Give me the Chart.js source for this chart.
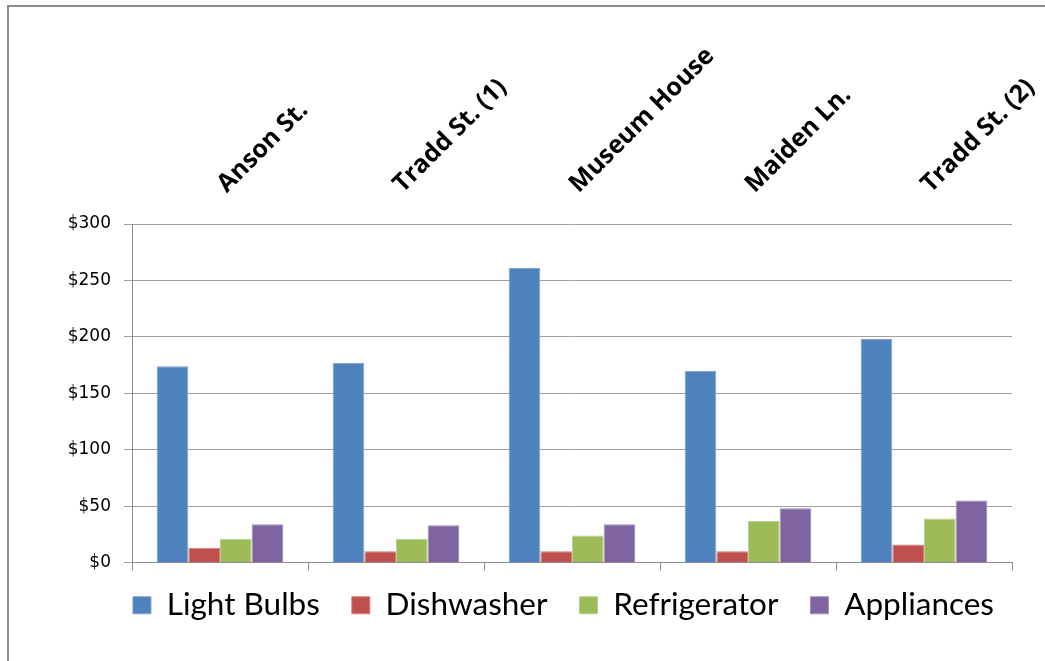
<!DOCTYPE html>
<html>
<head>
<meta charset="utf-8">
<script src="https://cdn.jsdelivr.net/npm/chart.js@4"></script>
<style>
  body { margin: 0; overflow: hidden; background: #fff; }
  #frame { position: absolute; left: 7px; top: 5px; width: 1100px; height: 700px;
           border-left: 2px solid #8c8c8c; border-top: 2px solid #8c8c8c; }
  #wrap { position: absolute; left: 0; top: 0; width: 1045px; height: 661px; }
</style>
</head>
<body>
<div id="frame"></div>
<div id="wrap"><canvas id="myChart" width="1045" height="661"></canvas></div>
<script>
const houses = ['Anson St.', 'Tradd St. (1)', 'Museum House', 'Maiden Ln.', 'Tradd St. (2)'];
const lightBulbs = [174, 177, 261, 170, 198];
const dishwasher = [13, 10, 10, 10, 16];
const refrigerator = [21, 21, 24, 37, 39];
const appliances = [34, 33, 34, 48, 55];
const yMax = 300;
const yStep = 50;

const ctx = document.getElementById('myChart').getContext('2d');

const myChart = new Chart(ctx, {
  type: 'bar',
  data: {
    labels: houses,
    datasets: [
      { label: 'Light Bulbs', data: lightBulbs, backgroundColor: '#4F81BD', borderColor: '#7ea3d0', borderWidth: 1 },
      { label: 'Dishwasher', data: dishwasher, backgroundColor: '#C0504D', borderColor: '#d27f7d', borderWidth: 1 },
      { label: 'Refrigerator', data: refrigerator, backgroundColor: '#9BBB59', borderColor: '#b8d08a', borderWidth: 1 },
      { label: 'Appliances', data: appliances, backgroundColor: '#8064A2', borderColor: '#a08cbc', borderWidth: 1 }
    ]
  },
  options: {
    responsive: false,
    animation: false,
    categoryPercentage: 0.72,
    barPercentage: 1.0,
    layout: { padding: { left: 0, right: 19, top: 0, bottom: 25 } },
    plugins: {
      tooltip: { enabled: false },
      legend: {
        position: 'bottom',
        align: 'end',
        fullSize: true,
        labels: {
          boxWidth: 18,
          boxHeight: 17,
          padding: 32,
          color: '#000',
          font: { family: 'Lato', size: 31.5 }
        }
      }
    },
    scales: {
      x: {
        position: 'bottom',
        grid: { offset: true, drawOnChartArea: false, tickLength: 8, color: '#8c8c8c' },
        border: { color: '#8c8c8c' },
        ticks: { display: false },
        afterFit: s => { s.height = -5; s.paddingLeft = 0; s.paddingRight = 0; }
      },
      xTop: {
        type: 'category',
        position: 'top',
        offset: true,
        grid: { display: false },
        border: { display: false },
        ticks: {
          minRotation: 45,
          maxRotation: 45,
          autoSkip: false,
          padding: 17,
          labelOffset: 23,
          color: '#000',
          font: { family: 'Open Sans', weight: 'bold', size: 25 }
        },
        afterFit: s => { s.height = 224; s.paddingLeft = 0; s.paddingRight = 0; }
      },
      y: {
        min: 0,
        max: yMax,
        ticks: {
          stepSize: yStep,
          padding: 13,
          color: '#000',
          font: { family: 'DejaVu Sans', size: 17 },
          callback: v => '$' + v
        },
        grid: { color: '#a0a0a0', tickLength: 8 },
        border: { color: '#8c8c8c' },
        afterFit: s => { s.width = 132; }
      },
      // empty spacer on the right so the plot ends where the original does
      ySpacer: {
        position: 'right',
        grid: { display: false },
        border: { display: false },
        ticks: { display: false },
        afterFit: s => { s.width = 14; }
      }
    }
  }
});
</script>
</body>
</html>
